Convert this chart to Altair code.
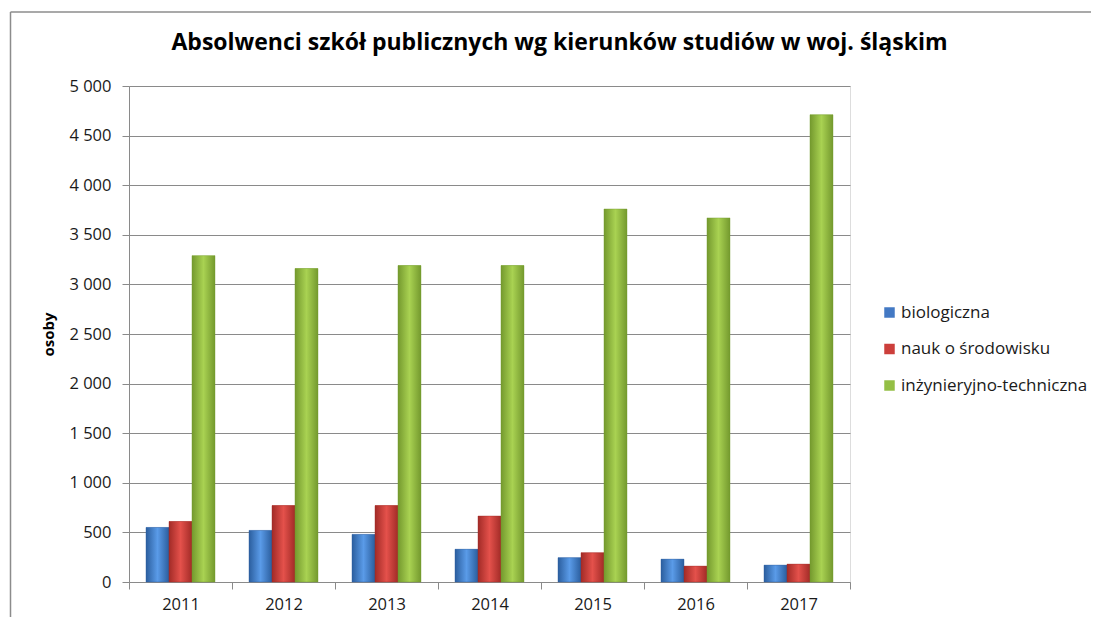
import altair as alt
import pandas as pd

years = ["2011", "2012", "2013", "2014", "2015", "2016", "2017"]
series = ["biologiczna", "nauk o środowisku", "inżynieryjno-techniczna"]
biologiczna = [550, 520, 480, 330, 245, 230, 170]
nauk_o_srodowisku = [610, 770, 770, 665, 295, 160, 180]
inzynieryjno_techniczna = [3290, 3160, 3190, 3190, 3760, 3670, 4710]
y_ticks = [0, 500, 1000, 1500, 2000, 2500, 3000, 3500, 4000, 4500, 5000]

title_text = "Absolwenci szkół publicznych wg kierunków studiów w woj. śląskim"

rows = []
for i, yr in enumerate(years):
    for s, vals in zip(series, [biologiczna, nauk_o_srodowisku, inzynieryjno_techniczna]):
        rows.append({"rok": yr, "kierunek": s, "osoby": vals[i]})
df = pd.DataFrame(rows)

solid = ["#4379C4", "#CC3F3B", "#94BF45"]
grads = [
    ("#2B5E9E", "#5A9BE8"),
    ("#A22B27", "#E4514B"),
    ("#74992E", "#A9D252"),
]

FONT = "Open Sans"
GRID = "#8A8A8A"

x_enc = alt.X(
    "rok:N",
    sort=years,
    scale=alt.Scale(paddingInner=0, paddingOuter=0),
    axis=alt.Axis(
        title=None, labelAngle=0, tickBand="extent", labelFont=FONT,
        labelFontSize=16.5, labelColor="#1a1a1a", labelPadding=7,
        tickSize=7, tickColor=GRID, domainColor=GRID, grid=False,
    ),
)
xo_enc = alt.XOffset(
    "kierunek:N",
    sort=series,
    scale=alt.Scale(domain=series, paddingInner=0, paddingOuter=0.74),
)
y_enc = alt.Y(
    "osoby:Q",
    scale=alt.Scale(domain=[0, 5000], nice=False),
    axis=alt.Axis(
        values=y_ticks, title="osoby", titleFont=FONT, titleFontSize=15,
        titleFontWeight="bold", titleColor="#000", titlePadding=12,
        labelFont=FONT, labelFontSize=16.5, labelColor="#1a1a1a", labelPadding=11,
        labelExpr="replace(format(datum.value, ','), ',', ' ')",
        tickSize=7, tickColor=GRID, domainColor=GRID,
        grid=True, gridColor=GRID, gridWidth=1,
    ),
)

base = alt.Chart(df).mark_bar().encode(
    x=x_enc,
    xOffset=xo_enc,
    y=y_enc,
    color=alt.Color(
        "kierunek:N",
        sort=series,
        scale=alt.Scale(domain=series, range=solid),
        legend=alt.Legend(
            title=None, orient="none", legendX=752, legendY=218,
            symbolType="square", symbolSize=110, symbolStrokeWidth=0,
            labelFont=FONT, labelFontSize=17, labelColor="#1a1a1a",
            rowPadding=18.5, labelOffset=3, labelLimit=400,
        ),
    ),
)

layers = [base]
for s, (dark, light) in zip(series, grads):
    grad = alt.Gradient(
        gradient="linear",
        stops=[
            alt.GradientStop(color=dark, offset=0),
            alt.GradientStop(color=light, offset=0.5),
            alt.GradientStop(color=dark, offset=1),
        ],
        x1=0, x2=1, y1=0, y2=0,
    )
    layers.append(
        alt.Chart(df)
        .transform_filter(alt.datum.kierunek == s)
        .mark_bar(fill=grad, stroke=dark, strokeWidth=0.6, strokeOpacity=0.7)
        .encode(x=x_enc, xOffset=xo_enc, y=y_enc)
    )

frame_df = pd.DataFrame({"k": [0]})
frame_left = alt.Chart(frame_df).mark_rule(color="#8C8C8C", strokeWidth=1.5).encode(
    x=alt.value(-118.5), y=alt.value(-74), y2=alt.value(600)
)
frame_top = alt.Chart(frame_df).mark_rule(color="#8C8C8C", strokeWidth=1.5).encode(
    x=alt.value(-118.5), x2=alt.value(1100), y=alt.value(-74)
)

chart = (
    alt.layer(*layers, frame_left, frame_top)
    .properties(
        width=721,
        height=496,
        title=alt.Title(
            title_text, font=FONT, fontSize=23, fontWeight="bold", color="#000",
            anchor="middle", dx=70, offset=0, baseline="alphabetic", dy=62,
        ),
        autosize=alt.AutoSizeParams(type="none"),
        padding={"left": 121, "top": 78, "right": 241, "bottom": 35},
    )
    .configure_view(stroke=None)
    .configure(background="white")
)

chart.save("out.html", embed_options={"renderer": "svg", "actions": False})
